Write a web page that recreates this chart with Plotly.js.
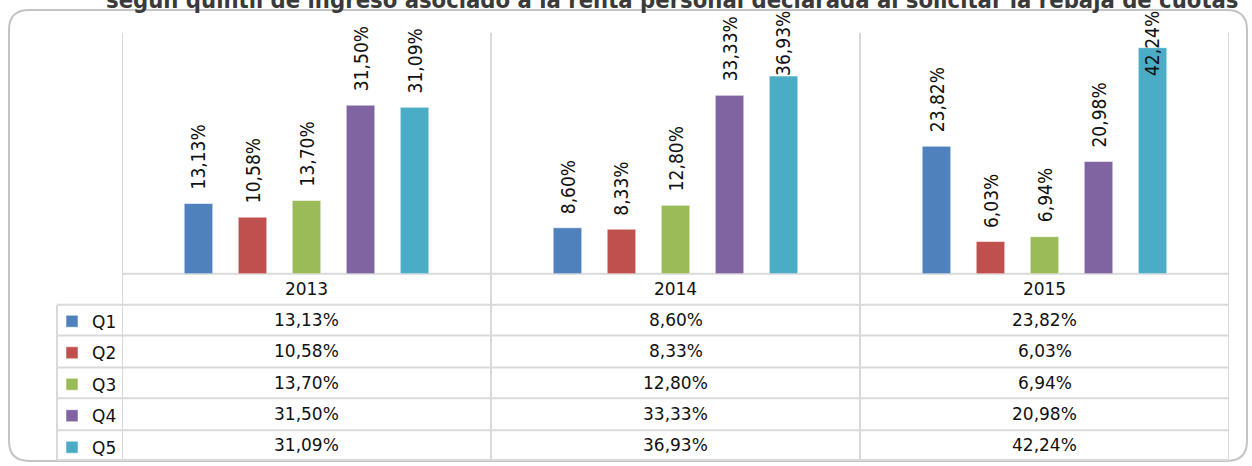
<!DOCTYPE html>
<html><head><meta charset="utf-8">
<script src="https://cdn.plot.ly/plotly-3.0.1.min.js"></script>
<style>html,body{margin:0;padding:0;background:#fff;overflow:hidden}#chart{width:1252px;height:466px}</style>
</head><body><div id="chart"></div>
<script>
const years = ['2013', '2014', '2015'];
const quintiles = ['Q1', 'Q2', 'Q3', 'Q4', 'Q5'];
const q1 = [13.13, 8.60, 23.82];
const q2 = [10.58, 8.33, 6.03];
const q3 = [13.70, 12.80, 6.94];
const q4 = [31.50, 33.33, 20.98];
const q5 = [31.09, 36.93, 42.24];
const colors = ['#4F81BD', '#C0504D', '#9BBB59', '#8064A2', '#4BACC6'];
const titleText = 'según quintil de ingreso asociado a la renta personal declarada al solicitar la rebaja de cuotas';

const series = [q1, q2, q3, q4, q5];
const W = 1252, H = 466;
const fmt = v => v.toFixed(2).replace('.', ',') + '%';
const px = x => x / W, py = y => 1 - y / H;

// layout geometry (pixels)
const plotL = 122, plotR = 1229, plotT = 33, plotB = 275;
const tableL = 57, rowLines = [306, 337, 369, 400, 432, 462];
const yMax = 45;
const bargap = 0.268, bargroupgap = 0.472;
const labelFont = '"Liberation Sans Narrow", "DejaVu Sans Condensed", sans-serif';
const labelSize = 19;
const tableFont = '"DejaVu Sans", Verdana, sans-serif';
const tableSize = 17;
const gridCol = '#d9d9d9';

const ctx = document.createElement('canvas').getContext('2d');
ctx.font = labelSize + 'px "Liberation Sans Narrow", "DejaVu Sans Condensed", sans-serif';
const measure = t => { const w = ctx.measureText(t).width; return w > 0 ? w : 64; };

const traces = series.map((s, i) => ({
  type: 'bar', x: years, y: s, name: quintiles[i], legendgroup: quintiles[i],
  marker: {color: colors[i], line: {color: 'rgba(255,255,255,0.55)', width: 1}},
  hoverinfo: 'skip'
}));

const k = (plotB - plotT) / yMax;
const catW = (plotR - plotL) / years.length;
const slot = catW * (1 - bargap) / series.length;
const annotations = [];
series.forEach((s, i) => {
  s.forEach((v, j) => {
    const barTop = plotB - v * k;
    const len = measure(fmt(v));
    const shift = Math.min(13, barTop - 12 - len);
    annotations.push({
      x: j, y: v, xref: 'x', yref: 'y', text: fmt(v), textangle: -90,
      showarrow: false, xanchor: 'center', yanchor: 'bottom',
      xshift: (i - 2) * slot, yshift: shift, borderpad: 0,
      font: {family: labelFont, size: labelSize, color: '#111'}
    });
    const rc = (rowLines[i] + rowLines[i + 1]) / 2;
    annotations.push({
      x: j, y: py(rc), xref: 'x', yref: 'paper', text: fmt(v),
      showarrow: false, xanchor: 'center', yanchor: 'middle',
      font: {family: tableFont, size: tableSize, color: '#111'}
    });
  });
});
annotations.push({
  x: px(672), y: py(16), xref: 'paper', yref: 'paper', text: '<b>' + titleText + '</b>',
  showarrow: false, xanchor: 'center', yanchor: 'bottom',
  font: {family: labelFont, size: 23.6, color: '#3a3a3a'}
});

const shapes = [];
// rounded frame
(function () {
  const x0 = 9, x1 = 1247, y0 = 10, y1 = 463, r = 20;
  const P = (x, y) => px(x) + ',' + py(y);
  const path = 'M' + P(x0 + r, y0) + ' L' + P(x1 - r, y0) + ' Q' + P(x1, y0) + ' ' + P(x1, y0 + r) +
    ' L' + P(x1, y1 - r) + ' Q' + P(x1, y1) + ' ' + P(x1 - r, y1) +
    ' L' + P(x0 + r, y1) + ' Q' + P(x0, y1) + ' ' + P(x0, y1 - r) +
    ' L' + P(x0, y0 + r) + ' Q' + P(x0, y0) + ' ' + P(x0 + r, y0) + ' Z';
  shapes.push({type: 'path', xref: 'paper', yref: 'paper', path: path, line: {color: '#c4c4c4', width: 2}, layer: 'below'});
})();
// baseline
shapes.push({type: 'line', xref: 'paper', yref: 'paper', x0: px(plotL), x1: px(plotR), y0: py(plotB), y1: py(plotB), line: {color: gridCol, width: 2}, layer: 'below'});
// row lines
rowLines.forEach(y => shapes.push({type: 'line', xref: 'paper', yref: 'paper', x0: px(tableL), x1: px(plotR), y0: py(y), y1: py(y), line: {color: gridCol, width: 2}, layer: 'below'}));
// category boundaries
for (let b = -0.5; b <= years.length - 0.5; b += 1) {
  shapes.push({type: 'line', xref: 'x', yref: 'paper', x0: b, x1: b, y0: py(rowLines[rowLines.length - 1]), y1: py(plotT), line: {color: gridCol, width: 2}, layer: 'below'});
}
// legend column left line
shapes.push({type: 'line', xref: 'paper', yref: 'paper', x0: px(tableL), x1: px(tableL), y0: py(rowLines[0]), y1: py(rowLines[rowLines.length - 1]), line: {color: gridCol, width: 2}, layer: 'below'});

const layout = {
  width: W, height: H, margin: {l: 0, r: 0, t: 0, b: 0},
  paper_bgcolor: '#fff', plot_bgcolor: 'rgba(0,0,0,0)',
  barmode: 'group', bargap: bargap, bargroupgap: bargroupgap,
  xaxis: {domain: [px(plotL), px(plotR)], type: 'category', range: [-0.5, 2.5], showgrid: false, zeroline: false,
    showline: false, ticks: '', ticklabelstandoff: 3, tickfont: {family: tableFont, size: tableSize, color: '#111'}, fixedrange: true},
  yaxis: {domain: [py(plotB), py(plotT)], range: [0, yMax], showgrid: false, zeroline: false, showticklabels: false, showline: false, fixedrange: true},
  showlegend: true,
  legend: {x: px(52), xanchor: 'left', y: py(305), yanchor: 'top', traceorder: 'grouped', tracegroupgap: 6.4,
    font: {family: tableFont, size: tableSize, color: '#111'}, bgcolor: 'rgba(0,0,0,0)', borderwidth: 0},
  annotations: annotations, shapes: shapes
};
Plotly.newPlot('chart', traces, layout, {displayModeBar: false, staticPlot: true});
</script>
</body></html>
